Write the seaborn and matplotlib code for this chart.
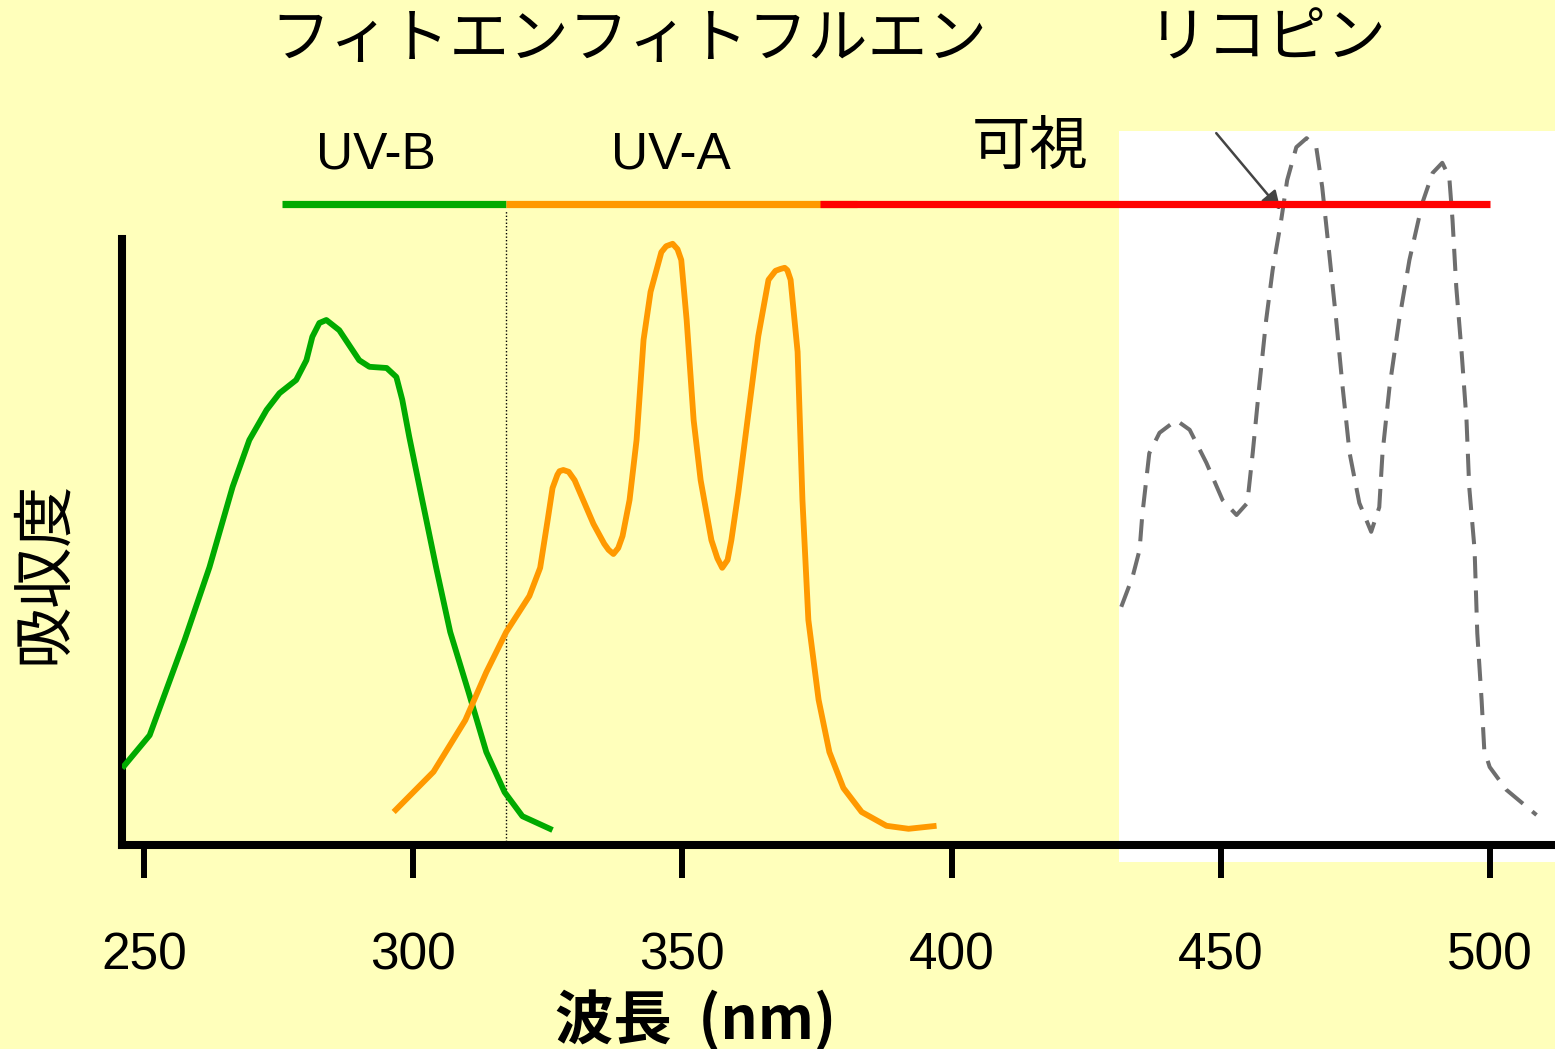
import matplotlib
matplotlib.use("Agg")
import matplotlib.pyplot as plt
import seaborn as sns
import pandas as pd
from matplotlib.patches import Rectangle

# phytoene (green), wavelength nm / absorbance (arbitrary)
phytoene_wl = [246.0, 251.1, 257.6, 262.2, 266.5, 269.6, 272.8, 275.2, 278.3, 280.2,
               281.3, 282.6, 283.9, 286.3, 290.0, 291.9, 295.1, 296.9, 298.0, 299.3,
               301.7, 304.3, 306.9, 310.3, 313.6, 317.0, 320.3, 325.9]
phytoene_abs = [0.128, 0.183, 0.342, 0.463, 0.597, 0.675, 0.725, 0.753, 0.775, 0.808,
                0.847, 0.870, 0.875, 0.858, 0.808, 0.797, 0.795, 0.780, 0.742, 0.680,
                0.575, 0.462, 0.355, 0.255, 0.155, 0.088, 0.048, 0.025]

# phytofluene (orange)
phytofluene_wl = [296.4, 303.8, 309.7, 313.6, 317.3, 321.6, 323.6, 325.0, 325.9, 326.8,
                  327.2, 327.9, 328.9, 330.0, 333.5, 335.5, 336.3, 337.2, 338.1, 338.9,
                  340.2, 341.5, 342.8, 344.1, 346.1, 347.0, 348.2, 349.1, 349.8, 350.8,
                  352.1, 353.4, 355.4, 356.5, 357.4, 358.4, 359.1, 360.4, 362.1, 364.1,
                  366.0, 367.3, 368.2, 369.0, 369.5, 370.1, 371.4, 372.3, 373.4, 375.3,
                  377.3, 379.9, 383.3, 387.9, 392.0, 397.2]
phytofluene_abs = [0.055, 0.122, 0.208, 0.288, 0.355, 0.415, 0.462, 0.542, 0.595, 0.617,
                   0.623, 0.625, 0.622, 0.608, 0.535, 0.502, 0.492, 0.485, 0.495, 0.515,
                   0.575, 0.675, 0.842, 0.922, 0.988, 0.998, 1.002, 0.993, 0.975, 0.875,
                   0.708, 0.608, 0.508, 0.478, 0.462, 0.475, 0.508, 0.588, 0.708, 0.848,
                   0.942, 0.957, 0.960, 0.962, 0.958, 0.942, 0.822, 0.575, 0.375, 0.242,
                   0.155, 0.095, 0.055, 0.032, 0.027, 0.032]

# lycopene (grey dashed, pasted scan)
lycopene_wl = [431.5, 433.6, 434.9, 435.4, 436.7, 438.6, 441.7, 444.2, 447.3, 450.3,
               452.9, 454.9, 455.9, 457.1, 458.4, 459.6, 461.2, 462.3, 464.0, 465.9,
               467.7, 468.8, 470.1, 471.4, 472.6, 473.9, 475.7, 477.9, 479.4, 480.0,
               481.3, 483.1, 485.0, 487.4, 489.3, 491.1, 492.4, 493.0, 493.7, 494.7,
               495.6, 496.1, 497.1, 497.6, 498.4, 498.9, 499.9, 503.0, 508.6]
lycopene_abs = [0.397, 0.447, 0.492, 0.550, 0.653, 0.687, 0.708, 0.692, 0.637, 0.575,
                0.550, 0.570, 0.653, 0.763, 0.875, 0.958, 1.042, 1.108, 1.163, 1.178,
                1.163, 1.097, 0.987, 0.875, 0.763, 0.653, 0.570, 0.522, 0.563, 0.653,
                0.763, 0.875, 0.975, 1.070, 1.120, 1.137, 1.113, 1.042, 0.930, 0.820,
                0.708, 0.597, 0.492, 0.353, 0.242, 0.158, 0.130, 0.092, 0.050]

# spectral bands drawn above the plot
band_names = ["UV-B", "UV-A", "可視"]
band_start = [275.7, 317.3, 375.5]
band_end = [317.3, 382.5, 499.9]
band_colors = ["#00AA00", "#FF9900", "#FF0000"]
uv_boundary = 317.3

tick_values = [250, 300, 350, 400, 450, 500]
tick_labels = ["250", "300", "350", "400", "450", "500"]

BG = "#FFFFBB"
sns.set_theme(style="white")
plt.rcParams["font.family"] = ["Liberation Sans", "DejaVu Sans"]
plt.rcParams["text.color"] = "black"
plt.rcParams["axes.labelcolor"] = "black"
plt.rcParams["xtick.color"] = "black"
CJK = ["Noto Sans CJK JP", "DejaVu Sans"]

fig = plt.figure(figsize=(15.55, 10.49), dpi=100)
fig.patch.set_facecolor(BG)
ax = fig.add_axes([122 / 1555, (1049 - 845) / 1049, (1555 - 122) / 1555, 845 / 1049])
ax.set_facecolor(BG)
ax.set_xlim(245.96, 512.03)
ax.set_ylim(0, 845 / 600)

# white pasted scan area behind lycopene
ax.add_patch(Rectangle((431.0, -0.028), 90, 1.218, facecolor="white",
                       edgecolor="none", zorder=0, clip_on=False))

df_g = pd.DataFrame({"wl": phytoene_wl, "abs": phytoene_abs})
df_o = pd.DataFrame({"wl": phytofluene_wl, "abs": phytofluene_abs})
df_l = pd.DataFrame({"wl": lycopene_wl, "abs": lycopene_abs})

sns.lineplot(data=df_g, x="wl", y="abs", ax=ax, color="#00AA00", lw=4.2,
             sort=False, estimator=None, solid_joinstyle="round",
             solid_capstyle="butt", zorder=3)
sns.lineplot(data=df_o, x="wl", y="abs", ax=ax, color="#FF9900", lw=4.2,
             sort=False, estimator=None, solid_joinstyle="round",
             solid_capstyle="butt", zorder=3)
sns.lineplot(data=df_l, x="wl", y="abs", ax=ax, color="#555555", lw=2.9,
             sort=False, estimator=None, dashes=False, zorder=3, alpha=0.85)
ax.lines[-1].set_dashes((5.5, 3))
ax.lines[-1].set_clip_on(False)

# arrow pointing at lycopene curve
ax.annotate("", xy=(461.4, 1.055), xytext=(448.8, 1.19),
            arrowprops=dict(arrowstyle="-|>", color="#444444", lw=1.8,
                            mutation_scale=28), annotation_clip=False, zorder=4)

# UV-B / UV-A boundary
ax.plot([uv_boundary, uv_boundary], [0, 1.058], color="black", lw=1, ls=(0, (1, 1.5)), zorder=2)

# bands
band_y = 1.068
label_y = [1.15, 1.15, 1.162]
label_x = [293.1, 347.8, 414.6]
for i, name in enumerate(band_names):
    ax.plot([band_start[i], band_end[i]], [band_y, band_y], color=band_colors[i],
            lw=5.2, solid_capstyle="butt", clip_on=False, zorder=5 + i)
    if name == "可視":
        ax.text(label_x[i], label_y[i], name, ha="center", va="center",
                fontsize=42, family=CJK)
    else:
        ax.text(label_x[i], label_y[i], name, ha="center", va="center", fontsize=37)

# spines / ticks
for s in ["top", "right"]:
    ax.spines[s].set_visible(False)
ax.spines["left"].set_bounds(0, 1.01)
ax.spines["left"].set_linewidth(5.8)
ax.spines["bottom"].set_linewidth(5.8)
ax.spines["left"].set_color("black")
ax.spines["bottom"].set_color("black")
ax.set_yticks([])
ax.set_xticks(tick_values)
ax.set_xticklabels(tick_labels)
ax.tick_params(axis="x", direction="out", length=24, width=4.3, color="black",
               labelsize=37, pad=38, bottom=True, labelcolor="black")

ax.set_xlabel("波長  (nm)", fontsize=42, family=CJK, fontweight="bold")
ax.xaxis.set_label_coords(0.40, -0.172)
ax.set_ylabel("吸収度", fontsize=44, family=CJK)
ax.yaxis.set_label_coords(-0.033, 0.323)

fig.text(629 / 1555, 1 - 40 / 1049, "フィトエンフィトフルエン", ha="center", va="center",
         fontsize=43, family=CJK)
fig.text(1267 / 1555, 1 - 40 / 1049, "リコピン", ha="center", va="center",
         fontsize=43, family=CJK)

fig.savefig("out.png", dpi=100, facecolor=BG)
